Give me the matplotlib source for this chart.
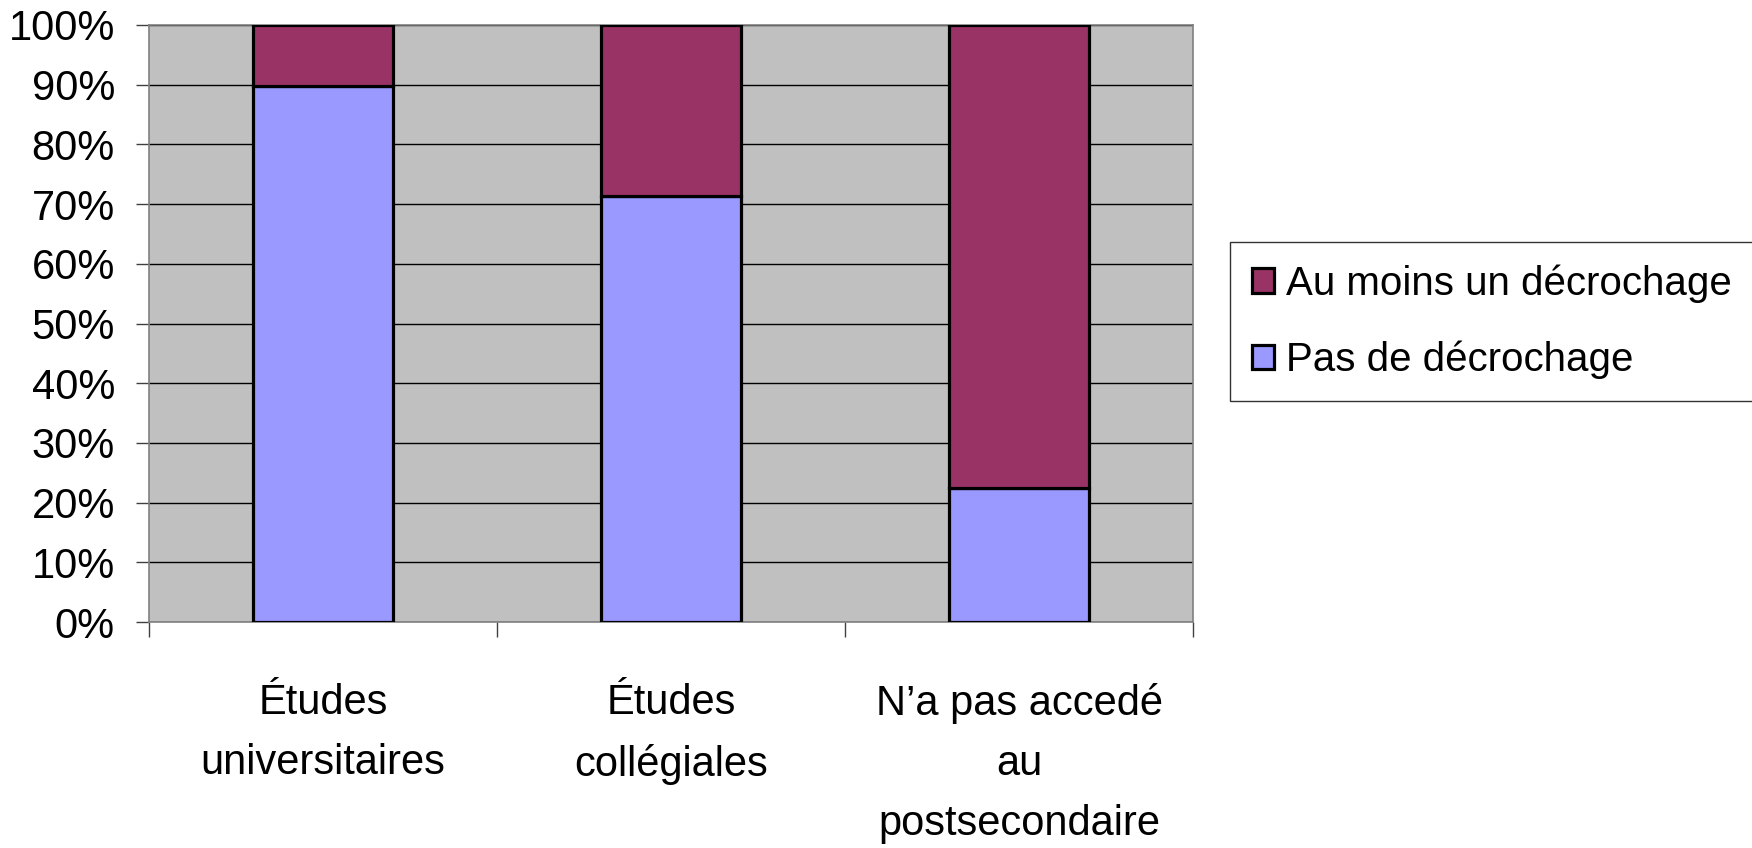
import matplotlib
matplotlib.use("Agg")
import matplotlib.pyplot as plt
import numpy as np

plt.rcParams['font.family'] = ['Liberation Sans', 'DejaVu Sans']

categories = ["Études\nuniversitaires", "Études\ncollégiales", "N’a pas accedé\nau\npostsecondaire"]
pas_decrochage = [89.8, 71.4, 22.5]
au_moins_un = [10.2, 28.6, 77.5]

fig = plt.figure(figsize=(17.52, 8.48), dpi=100)
ax = fig.add_axes([149 / 1752, 1 - 622 / 848, (1193 - 149) / 1752, (622 - 25) / 848])
ax.set_facecolor('#C0C0C0')

x = np.arange(len(categories))
w = 0.405
b1 = ax.bar(x, pas_decrochage, w, color='#9999FF', edgecolor='black', linewidth=2.3,
            label='Pas de décrochage', zorder=3)
b2 = ax.bar(x, au_moins_un, w, bottom=pas_decrochage, color='#993366', edgecolor='black',
            linewidth=2.3, label='Au moins un décrochage', zorder=3)

ax.set_xlim(-0.5, 2.5)
ax.set_ylim(0, 100)
ax.set_yticks(np.arange(0, 101, 10))
ax.set_yticklabels([f"{v}%" for v in range(0, 101, 10)], fontsize=30)
ax.yaxis.grid(True, color='black', linewidth=1, zorder=1)
ax.set_axisbelow(True)

ax.set_xticks(x)
ax.set_xticklabels(categories, fontsize=30, linespacing=1.65)
ax.tick_params(axis='x', which='major', length=0, pad=44)
ax.set_xticks([-0.5, 0.5, 1.5, 2.5], minor=True)
ax.tick_params(axis='x', which='minor', length=11, width=1, color='#404040')
ax.tick_params(axis='y', length=9.5, width=1, pad=15, color='#404040')

for s in ax.spines.values():
    s.set_color('#808080')
    s.set_linewidth(1.2)

handles = [b2, b1]
leg = fig.legend(handles, [h.get_label() for h in handles], loc='upper left',
                 bbox_to_anchor=(1230 / 1752, 1 - 242 / 848), fontsize=29,
                 frameon=True, fancybox=False, edgecolor='black', handlelength=0.55,
                 handleheight=0.55, handletextpad=0.28, labelspacing=0.94,
                 borderpad=0.55, borderaxespad=0)
leg.get_frame().set_linewidth(1)

fig.savefig('out.png', dpi=100)
